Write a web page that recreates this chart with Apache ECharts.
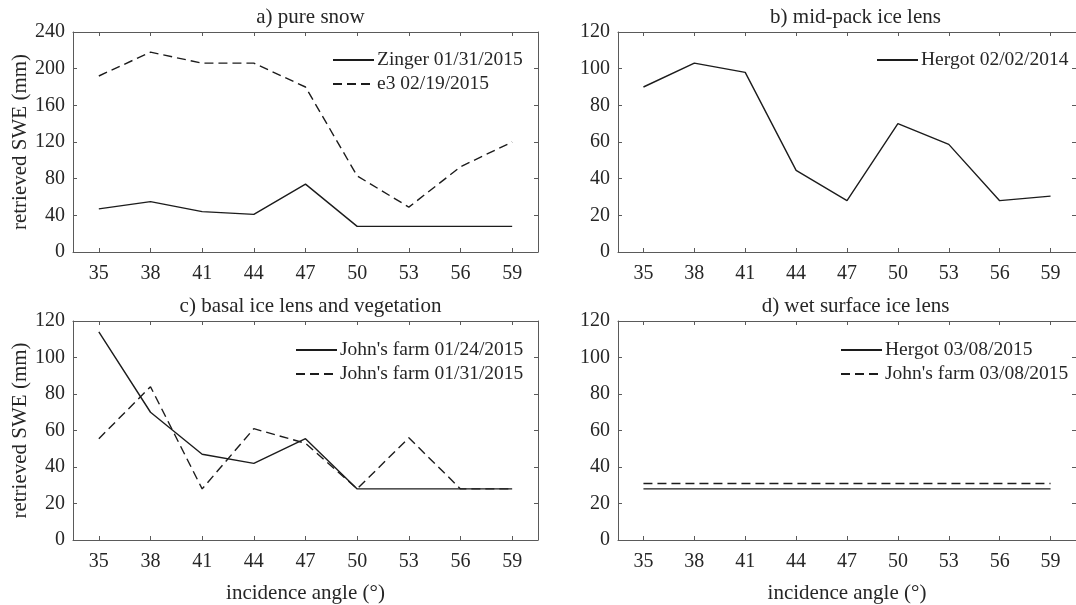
<!DOCTYPE html>
<html>
<head>
<meta charset="utf-8">
<script src="https://cdn.jsdelivr.net/npm/echarts@6/dist/echarts.min.js"></script>
<style>
  html, body { margin: 0; padding: 0; background: #fff; }
  #chart { width: 1076px; height: 605px; }
</style>
</head>
<body>
<div id="chart"></div>
<script>
// Incidence angles (degrees) shared by all four panels
const angles = [35, 38, 41, 44, 47, 50, 53, 56, 59];

// a) pure snow
const zingerSWE = [47, 55, 44, 41, 74, 28, 28, 28, 28];
const e3SWE = [192, 218, 206, 206, 180, 83, 49, 93, 120];

// b) mid-pack ice lens
const hergot2014SWE = [90, 103, 98, 44.5, 28, 70, 58.7, 28, 30.5];

// c) basal ice lens and vegetation
const johns0124SWE = [114, 70, 47, 42, 55.5, 28, 28, 28, 28];
const johns0131SWE = [55.5, 84, 28, 61, 53, 28, 56, 28, 28];

// d) wet surface ice lens
const hergot0308SWE = [28, 28, 28, 28, 28, 28, 28, 28, 28];
const johns0308SWE = [31, 31, 31, 31, 31, 31, 31, 31, 31];

const panelTitles = ['a) pure snow', 'b) mid-pack ice lens', 'c) basal ice lens and vegetation', 'd) wet surface ice lens'];
const yTitle = 'retrieved SWE (mm)';
const xTitle = 'incidence angle (\u00b0)';

const FONT = '"Liberation Serif", "Times New Roman", serif';
const INK = '#262626';
const AXIS = '#5a5a5a';
const LINE = '#1c1c1c';

// grid boxes: [left, top]
const boxW = 465, boxH = 220;
const boxes = [[73, 32], [618, 32], [73, 321], [618, 321]];
const yMax = [240, 120, 120, 120];
const yStep = [40, 20, 20, 20];

const grids = boxes.map(b => ({ left: b[0], top: b[1], width: boxW, height: boxH, containLabel: false }));

const xAxes = [];
const yAxes = [];
boxes.forEach((b, g) => {
  const bottomRow = g >= 2;
  // bottom x axis with labels
  xAxes.push({
    type: 'value', gridIndex: g, position: 'bottom', min: 33.5, max: 60.5,
    name: bottomRow ? xTitle : '', nameLocation: 'middle', nameGap: 43,
    nameTextStyle: { fontFamily: FONT, fontSize: 21, color: INK },
    axisLine: { show: true, onZero: false, lineStyle: { color: AXIS, width: 1 } },
    axisTick: { show: true, inside: true, length: 4, customValues: angles, lineStyle: { color: AXIS } },
    axisLabel: { show: true, customValues: angles, margin: 12, fontFamily: FONT, fontSize: 20, color: INK },
    splitLine: { show: false }
  });
  // top mirror axis
  xAxes.push({
    type: 'value', gridIndex: g, position: 'top', min: 33.5, max: 60.5,
    axisLine: { show: true, onZero: false, lineStyle: { color: AXIS, width: 1 } },
    axisTick: { show: true, inside: true, length: 4, customValues: angles, lineStyle: { color: AXIS } },
    axisLabel: { show: false },
    splitLine: { show: false }
  });
  const leftCol = g % 2 === 0;
  yAxes.push({
    type: 'value', gridIndex: g, position: 'left', min: 0, max: yMax[g], interval: yStep[g],
    name: leftCol ? yTitle : '', nameLocation: 'middle', nameGap: 42,
    nameTextStyle: { fontFamily: FONT, fontSize: 21, color: INK },
    axisLine: { show: true, onZero: false, lineStyle: { color: AXIS, width: 1 } },
    axisTick: { show: true, inside: true, length: 4, lineStyle: { color: AXIS } },
    axisLabel: { show: true, margin: 8, fontFamily: FONT, fontSize: 20, color: INK },
    splitLine: { show: false }
  });
  yAxes.push({
    type: 'value', gridIndex: g, position: 'right', min: 0, max: yMax[g], interval: yStep[g],
    axisLine: { show: true, onZero: false, lineStyle: { color: AXIS, width: 1 } },
    axisTick: { show: true, inside: true, length: 4, lineStyle: { color: AXIS } },
    axisLabel: { show: false },
    splitLine: { show: false }
  });
});

function pairs(vals) { return angles.map((a, i) => [a, vals[i]]); }

function lineSeries(name, vals, g, dashed) {
  return {
    name: name, type: 'line', xAxisIndex: g * 2, yAxisIndex: g * 2,
    data: pairs(vals), symbol: 'none', showSymbol: false, animation: false,
    lineStyle: { color: LINE, width: 1.4, type: dashed ? [9, 5] : 'solid' },
    itemStyle: { color: LINE }
  };
}

const series = [
  lineSeries('Zinger 01/31/2015', zingerSWE, 0, false),
  lineSeries('e3 02/19/2015', e3SWE, 0, true),
  lineSeries('Hergot 02/02/2014', hergot2014SWE, 1, false),
  lineSeries("John's farm 01/24/2015", johns0124SWE, 2, false),
  lineSeries("John's farm 01/31/2015", johns0131SWE, 2, true),
  lineSeries('Hergot 03/08/2015', hergot0308SWE, 3, false),
  lineSeries("John's farm 03/08/2015", johns0308SWE, 3, true)
];

// legend keys show only the line sample, no marker
function legendAt(left, top, names) {
  return {
    data: names, left: left, top: top, orient: 'vertical',
    itemWidth: 41, itemHeight: 14, itemGap: 4, padding: 0,
    selectedMode: false,
    itemStyle: { opacity: 0 },
    lineStyle: { opacity: 1 },
    textStyle: { fontFamily: FONT, fontSize: 19.5, color: INK, padding: [0, 0, 0, -2] }
  };
}

const legends = [
  legendAt(332, 50, ['Zinger 01/31/2015', 'e3 02/19/2015']),
  legendAt(876, 50, ['Hergot 02/02/2014']),
  legendAt(295, 340, ["John's farm 01/24/2015", "John's farm 01/31/2015"]),
  legendAt(840, 340, ['Hergot 03/08/2015', "John's farm 03/08/2015"])
];

const titles = panelTitles.map((t, g) => ({
  text: t, left: boxes[g][0] + boxW / 2, top: boxes[g][1] - 30, textAlign: 'center',
  textStyle: { fontFamily: FONT, fontSize: 21, fontWeight: 'normal', color: INK }
}));

const chart = echarts.init(document.getElementById('chart'), null, { renderer: 'canvas' });
chart.setOption({
  backgroundColor: '#ffffff',
  animation: false,
  title: titles,
  legend: legends,
  grid: grids,
  xAxis: xAxes,
  yAxis: yAxes,
  series: series
});
</script>
</body>
</html>
